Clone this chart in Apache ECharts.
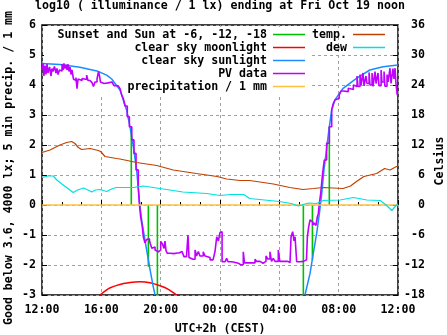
<!DOCTYPE html>
<html><head><meta charset="utf-8">
<script src="https://cdn.jsdelivr.net/npm/echarts@6/dist/echarts.min.js"></script>
<style>html,body{margin:0;padding:0;background:#fff}#c{width:447px;height:335px}</style>
</head><body><div id="c"></div>
<script>
// x = hours since 12:00 (Oct 18) ; left axis log10 lux ; right axis Celsius
const xTickLabels = ['12:00','16:00','20:00','00:00','04:00','08:00','12:00'];
const titleText = 'log10 ( illuminance / 1 lx) ending at Fri Oct 19 noon';
const legendNames = ['Sunset and Sun at -6, -12, -18','clear sky moonlight','clear sky sunlight','PV data','precipitation / 1 mm','temp.','dew'];

// Sunset / sun-depression vertical markers: time, top value
const sunEventT = [6.02, 7.17, 7.78, 17.62, 18.23, 19.37];
const sunEventV = [2.6, -2.06, -3, -3, -1.83, 2.6];

const moonData = [[3.91,-3],[4.36,-2.83],[4.6,-2.76],[5.04,-2.68],[5.5,-2.62],[5.93,-2.58],[6.6,-2.56],[7.28,-2.59],[7.96,-2.69],[8.52,-2.81],[9.08,-3.0]];

const sunData = [[0,4.72],[1.2,4.68],[2.56,4.59],[3.7,4.47],[4.36,4.33],[4.7,4.2],[5.0,4.0],[5.26,3.83],[5.48,3.5],[5.7,3.17],[5.93,2.61],[6.16,1.94],[6.38,1.17],[6.56,0.17],[6.72,-0.5],[6.94,-1.17],[7.17,-1.83],[7.33,-2.28],[7.5,-2.72],[7.62,-3.0],
  [12,null],
  [17.73,-3],[18.07,-2.28],[18.29,-1.61],[18.52,-0.94],[18.7,-0.28],[18.86,0.39],[19.01,1.17],[19.2,1.94],[19.37,2.61],[19.53,3.17],[19.75,3.5],[20.05,3.72],[20.3,3.89],[21.2,4.22],[22.1,4.5],[23.0,4.61],[24,4.67]];

const pvData = [[0,4.5],[0.07,4.72],[0.13,4.3],[0.2,4.65],[0.27,4.35],[0.34,4.7],[0.4,4.4],[0.51,4.6],[0.61,4.3],[0.67,4.55],[0.74,4.45],[0.84,4.62],[0.94,4.4],[1.01,4.55],[1.08,4.35],[1.18,4.5],[1.28,4.47],[1.35,4.7],[1.42,4.5],[1.48,4.72],[1.55,4.55],[1.62,4.68],[1.69,4.5],[1.75,4.7],[1.82,4.45],[1.89,4.6],[1.96,4.35],[2.02,4.5],[2.12,4.2],[2.22,4.15],[2.29,4.25],[2.36,3.88],[2.43,4.2],[2.56,4.15],[2.7,4.22],[2.83,4.18],[3.01,4.33],[3.1,4.15],[3.24,4.12],[3.37,4.08],[3.47,3.95],[3.57,4.1],[3.71,4.2],[3.81,4.45],[3.88,4.3],[3.94,4.1],[4.05,4.05],[4.18,4.1],[4.31,4.07],[4.45,4.05],[4.58,4.1],[4.72,4.05],[4.85,3.98],[4.99,3.97],[5.14,3.94],[5.26,3.88],[5.37,3.67],[5.48,3.55],[5.6,3.3],[5.75,2.94],[5.89,2.61],[6.05,2.17],[6.2,1.72],[6.34,1.17],[6.49,0.61],[6.56,0.06],[6.65,-0.39],[6.76,-0.72],[6.83,-1.06],[6.94,-1.26],[7.05,-1.15],[7.15,-1.13],[7.25,-1.2],[7.31,-1.3],[7.4,-1.44],[7.52,-1.4],[7.62,-1.5],[7.73,-1.56],[7.85,-1.5],[8.0,-1.22],[8.12,-1.3],[8.23,-1.45],[8.29,-1.2],[8.36,-1.52],[8.45,-1.61],[8.63,-1.62],[8.9,-1.6],[9.1,-1.6],[9.24,-1.55],[9.44,-1.6],[9.57,-1.72],[9.74,-1.75],[9.84,-1.0],[9.91,-1.75],[9.98,-1.81],[10.18,-1.81],[10.32,-1.5],[10.42,-1.7],[10.54,-1.55],[10.65,-1.7],[10.87,-1.56],[10.99,-1.7],[11.12,-1.75],[11.33,-1.83],[11.53,-1.85],[11.66,-1.56],[11.78,-1.06],[11.89,-1.2],[12.0,-0.92],[12.09,-0.89],[12.14,-1.89],[12.34,-1.89],[12.45,-1.78],[12.54,-1.89],[12.74,-1.9],[12.9,-1.94],[13.23,-2.0],[13.42,-1.98],[13.57,-1.56],[13.65,-1.93],[13.89,-1.93],[14.16,-1.93],[14.36,-1.81],[14.47,-1.88],[14.7,-1.94],[14.9,-1.88],[15.1,-1.7],[15.22,-1.8],[15.37,-1.56],[15.47,-1.88],[15.59,-1.78],[15.71,-1.88],[15.93,-1.5],[16.03,-1.88],[16.32,-1.88],[16.58,-1.92],[16.72,-1.94],[16.79,-1.06],[16.9,-0.89],[16.99,-1.2],[17.06,-1.06],[17.17,-1.89],[17.39,-1.88],[17.62,-1.88],[17.73,-1.83],[17.83,-1.88],[17.89,-1.06],[17.98,-0.72],[18.07,-0.5],[18.18,-0.56],[18.25,-0.67],[18.34,-0.6],[18.47,-0.68],[18.56,-0.4],[18.63,-0.28],[18.7,0.06],[18.79,0.39],[18.92,1.06],[19.03,1.5],[19.19,2.06],[19.37,2.61],[19.53,3.17],[19.64,3.39],[19.75,3.5],[19.87,3.56],[20.04,3.67],[20.16,3.8],[20.31,3.83],[20.43,3.78],[20.65,3.89],[20.77,3.85],[20.99,4.0],[21.1,3.95],[21.24,4.3],[21.3,3.95],[21.44,4.35],[21.51,4.0],[21.64,4.4],[21.71,3.97],[21.84,4.3],[21.91,4.05],[22.05,4.42],[22.11,4.0],[22.25,4.4],[22.32,3.95],[22.45,4.45],[22.52,4.05],[22.65,4.4],[22.72,3.98],[22.86,4.5],[22.92,4.1],[23.06,4.45],[23.12,3.96],[23.26,4.35],[23.33,4.1],[23.46,4.56],[23.53,4.05],[23.66,4.55],[23.73,4.2],[23.8,4.56],[23.87,4.0],[23.95,3.67],[24,3.67]];

const precipT = [0, 24];
const precipV = [0, 0];

// Celsius
const tempData = [[0,10.5],[0.54,11.0],[1.21,12.0],[1.66,12.5],[2.0,12.7],[2.22,12.3],[2.45,11.5],[2.67,11.1],[3.24,11.3],[3.8,10.9],[3.95,10.7],[4.25,9.7],[5.03,9.3],[5.26,9.2],[6.38,8.5],[7.73,7.9],[8.85,7.0],[10.4,6.3],[11.8,5.7],[12.45,5.2],[13.35,4.9],[14.0,4.9],[15.6,4.2],[16.7,3.5],[17.6,3.1],[18.3,3.3],[18.96,3.5],[20.3,3.3],[20.8,3.8],[21.2,4.7],[21.7,5.7],[22.56,6.3],[23.1,7.3],[23.46,7.0],[23.9,7.7],[24,7.7]];
const dewData = [[0,5.5],[0.4,5.8],[0.76,5.8],[1.0,5.0],[1.3,4.3],[1.66,3.5],[2.1,2.5],[2.4,3.0],[2.8,3.4],[3.1,3.0],[3.35,2.6],[3.6,3.0],[3.9,3.1],[4.36,2.7],[4.7,3.2],[5.0,3.5],[6.16,3.5],[6.83,3.8],[7.5,3.5],[8.4,3.1],[9.5,2.6],[11.1,2.3],[12.0,1.9],[12.7,2.1],[13.6,2.1],[14.0,1.3],[15.0,1.0],[16.0,0.7],[16.8,0.3],[17.3,-0.2],[17.6,0.1],[18.0,0.4],[18.5,0.3],[18.96,0.9],[20.1,1.0],[21.0,1.5],[21.9,1.0],[22.8,0.9],[23.2,0.0],[23.58,-1.1],[23.9,0.0],[24,0.2]];

const COL = {green:'#00c000', red:'#ff0000', blue:'#1a8cff', purple:'#c000ff', precip:'#ffc040', temp:'#c04000', dew:'#00e0e0'};
const FONT = '"DejaVu Sans Mono", "Liberation Mono", monospace';
const FS = 11.6;

const sunEventData = sunEventT.map((t, i) => [t, sunEventV[i]]);
const precipData = precipT.map((t, i) => [t, precipV[i]]);

const chart = echarts.init(document.getElementById('c'), null, {renderer: 'canvas'});
const txt = {color:'#000', fontFamily: FONT, fontWeight:'bold', fontSize: FS};
const legendColors = [COL.green, COL.red, COL.blue, COL.purple, COL.precip, COL.temp, COL.dew];
const graphics = [
  {type:'rect', z:1, silent:true, shape:{x:44, y:27, width:266, height:67}, style:{fill:'#fff'}},
  {type:'text', z:10, style:{text:titleText, x:220, y:6, textAlign:'center', textVerticalAlign:'middle', font:'bold '+FS+'px '+FONT, fill:'#000'}},
  {type:'text', z:10, rotation:Math.PI/2, x:9, y:168, style:{text:'Good below 3.6, 4000 lx; 5 min precip. / 1 mm', x:0, y:0, textAlign:'center', textVerticalAlign:'middle', font:'bold '+FS+'px '+FONT, fill:'#000'}},
  {type:'text', z:10, rotation:Math.PI/2, x:440, y:161, style:{text:'Celsius', x:0, y:0, textAlign:'center', textVerticalAlign:'middle', font:'bold '+FS+'px '+FONT, fill:'#000'}}
];
legendNames.forEach((n, i) => {
  const col2 = i >= 5;
  const row = col2 ? i - 5 : i;
  const y = 34.5 + row * 13;
  const tx = col2 ? 347 : 267;
  const lx1 = col2 ? 353 : 273;
  graphics.push({type:'text', z:10, style:{text:n, x:tx, y:y, textAlign:'right', textVerticalAlign:'middle', font:'bold '+FS+'px '+FONT, fill:'#000'}});
  graphics.push({type:'line', z:10, shape:{x1:lx1, y1:y, x2:lx1+32, y2:y}, style:{stroke:legendColors[i], lineWidth:1.5}});
});

const lineS = (name, data, color, w, extra) => Object.assign({
  name, type:'line', data, showSymbol:false, symbol:'none', connectNulls:false,
  lineStyle:{color, width:w}, itemStyle:{color}, animation:false, silent:true
}, extra || {});

chart.setOption({
  animation:false,
  backgroundColor:'#fff',
  grid:{left:42, right:49, top:25, bottom:40, outerBoundsMode:'none', containLabel:false, show:true, borderColor:'#000', borderWidth:1.5, backgroundColor:'transparent'},
  xAxis:{type:'value', min:0, max:24, interval:4,
    axisLine:{show:false},
    axisTick:{show:true, inside:true, length:5, lineStyle:{color:'#000', width:1}},
    minorTick:{show:true, splitNumber:3, length:3, lineStyle:{color:'#000', width:1}},
    splitLine:{show:true, lineStyle:{color:'#a0a0a0', type:[3,3], width:1}},
    axisLabel:Object.assign({margin:9, showMinLabel:true, showMaxLabel:true, formatter:(v)=>xTickLabels[Math.round(v/4)]}, txt),
    name:'UTC+2h (CEST)', nameLocation:'middle', nameGap:28, nameTextStyle:txt},
  yAxis:[
    {type:'value', min:-3, max:6, interval:1, position:'left',
      axisLine:{show:false},
      axisTick:{show:true, inside:true, length:5, lineStyle:{color:'#000'}},
      splitLine:{show:true, lineStyle:{color:'#a0a0a0', type:[3,3], width:1}},
      axisLabel:Object.assign({margin:6, showMinLabel:true, showMaxLabel:true}, txt)},
    {type:'value', min:-18, max:36, interval:6, position:'right',
      axisLine:{show:false},
      axisTick:{show:true, inside:true, length:5, lineStyle:{color:'#000'}},
      splitLine:{show:false},
      axisLabel:Object.assign({margin:27, align:'right', showMinLabel:true, showMaxLabel:true}, txt)}
  ],
  graphic:graphics,
  series:[
    {name:'sun events', type:'custom', data:sunEventData, silent:true, animation:false, z:2,
      renderItem:(params, api) => {
        const t = api.value(0), v = api.value(1);
        const p0 = api.coord([t, 0]);
        const p1 = api.coord([t, v]);
        return {type:'line', shape:{x1:p0[0], y1:p0[1], x2:p1[0], y2:p1[1]}, style:{stroke:COL.green, lineWidth:1.6}};
      }},
    lineS('moon', moonData, COL.red, 1.5, {smooth:0.3}),
    lineS('sun', sunData, COL.blue, 1.5),
    lineS('pv', pvData, COL.purple, 1.6, {step:'end'}),
    lineS('precip', precipData, COL.precip, 1.5),
    lineS('temp', tempData, COL.temp, 1.2, {yAxisIndex:1}),
    lineS('dew', dewData, COL.dew, 1.2, {yAxisIndex:1})
  ]
});
</script></body></html>
